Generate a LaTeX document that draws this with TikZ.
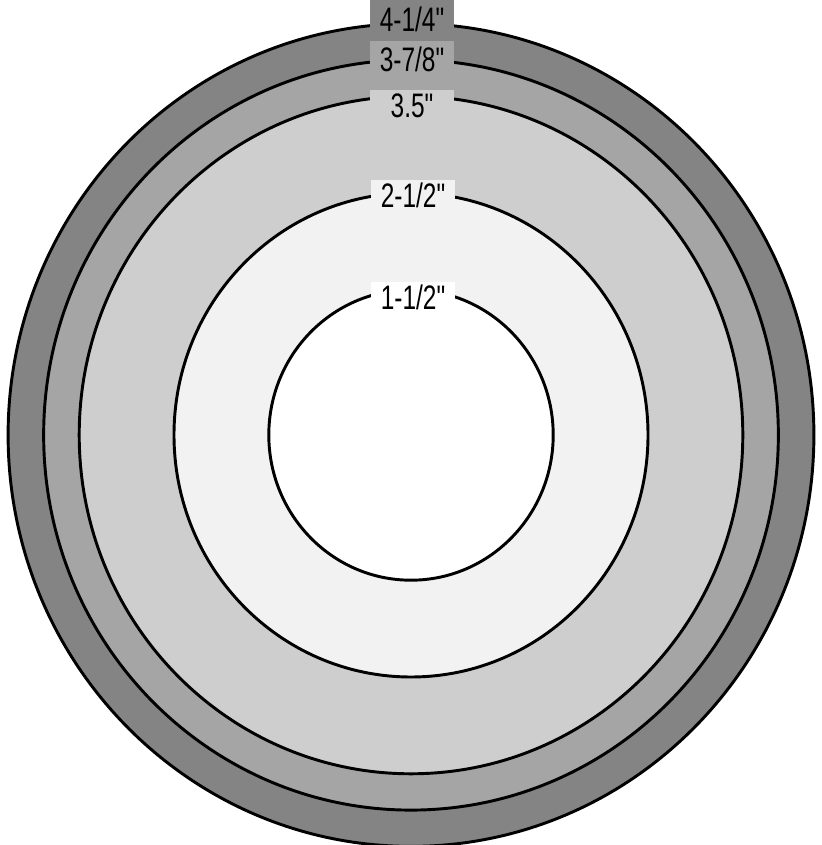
\documentclass[tikz,border=0pt]{standalone}
\usepackage{fontspec}
\setmainfont{Liberation Sans}[Ligatures=TeXOff]
\usepackage{graphicx}
\definecolor{bandA}{RGB}{132,132,132}
\definecolor{bandB}{RGB}{165,165,165}
\definecolor{bandC}{RGB}{206,206,206}
\definecolor{bandD}{RGB}{242,242,242}
\tikzset{
  ring/.style={line width=2.5pt, draw=black},
  lbl/.style={inner sep=0pt, anchor=base, minimum width=2.52cm, minimum height=0.95cm,
              font=\fontsize{29}{29}\selectfont}
}
\newcommand{\narrow}[1]{\scalebox{0.72}[1]{#1"}}
\begin{document}
\begin{tikzpicture}[x=0.03cm,y=0.03cm]
\useasboundingbox (0,0) rectangle (822,845);
\coordinate (c) at (411,410);
\draw[ring, fill=bandA] (c) ellipse [x radius={94.8*4.25}, y radius={96.8*4.25}];
\draw[ring, fill=bandB] (c) ellipse [x radius={94.8*3.875}, y radius={96.8*3.875}];
\draw[ring, fill=bandC] (c) ellipse [x radius={94.8*3.5}, y radius={96.8*3.5}];
\draw[ring, fill=bandD] (c) ellipse [x radius={94.8*2.5}, y radius={96.8*2.5}];
\draw[ring, fill=white] (c) ellipse [x radius={94.8*1.5}, y radius={96.8*1.5}];
\node[lbl, fill=bandA, minimum height=1.45cm] (l1) at (412,813) {\narrow{4-1/4}};
\node[lbl, fill=bandB, minimum height=1.15cm] (l2) at (412,773) {\narrow{3-7/8}};
\node[lbl, fill=bandC] (l3) at (412,727) {\narrow{3.5}};
\node[lbl, fill=bandD] (l4) at (413,637) {\narrow{2-1/2}};
\node[lbl, fill=white] (l5) at (413,535) {\narrow{1-1/2}};
\end{tikzpicture}
\end{document}
